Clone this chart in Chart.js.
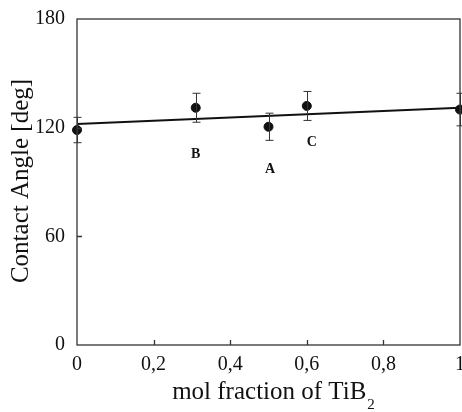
<!DOCTYPE html>
<html>
<head>
<meta charset="utf-8">
<script src="https://cdn.jsdelivr.net/npm/chart.js@4/dist/chart.umd.min.js"></script>
<style>
  html, body { margin: 0; padding: 0; background: #fff; }
  #wrap { width: 462px; height: 412px; }
</style>
</head>
<body>
<div id="wrap"><canvas id="c" width="462" height="412"></canvas></div>
<script>
// datos
const molFrac = [0, 0.31, 0.5, 0.6, 1];
const angle = [118.7, 131, 120.5, 132, 130];
const angleErr = [7, 8, 7.5, 8, 9];
const fitX = [0, 1];
const fitY = [122, 131];
const labelText = ['B', 'A', 'C'];
const labelX = [0.31, 0.504, 0.613];
const labelY = [105, 97, 112];
const xTicks = [0, 0.2, 0.4, 0.6, 0.8, 1];
const yTicks = [0, 60, 120, 180];

const SERIF = '"Liberation Serif", "DejaVu Serif", serif';
const INK = '#111';

// caja, marcas interiores, barras de error, letras y títulos
const extras = {
    id: 'extras',
    afterDatasetsDraw(chart) {
        const { ctx, chartArea: a, scales: { x, y } } = chart;
        ctx.save();
        ctx.strokeStyle = '#333';
        ctx.lineWidth = 1.3;
        ctx.strokeRect(a.left, a.top, a.right - a.left, a.bottom - a.top);

        // marcas hacia dentro
        ctx.beginPath();
        xTicks.slice(1, -1).forEach(v => {
            const px = Math.round(x.getPixelForValue(v)) + .5;
            ctx.moveTo(px, a.bottom);
            ctx.lineTo(px, a.bottom - 5);
        });
        yTicks.slice(1, -1).forEach(v => {
            const py = Math.round(y.getPixelForValue(v)) + .5;
            ctx.moveTo(a.left, py);
            ctx.lineTo(a.left + 5, py);
        });
        ctx.stroke();

        // barras de error
        ctx.lineWidth = 1;
        ctx.beginPath();
        molFrac.forEach((v, i) => {
            const px = Math.round(x.getPixelForValue(v)) + .5;
            const top = y.getPixelForValue(angle[i] + angleErr[i]);
            const bot = y.getPixelForValue(angle[i] - angleErr[i]);
            ctx.moveTo(px, top); ctx.lineTo(px, bot);
            ctx.moveTo(px - 4, top); ctx.lineTo(px + 4, top);
            ctx.moveTo(px - 4, bot); ctx.lineTo(px + 4, bot);
        });
        ctx.stroke();

        // letras A, B, C
        ctx.fillStyle = INK;
        ctx.font = 'bold 14px ' + SERIF;
        ctx.textAlign = 'center';
        ctx.textBaseline = 'middle';
        labelText.forEach((t, i) => {
            ctx.fillText(t, x.getPixelForValue(labelX[i]), y.getPixelForValue(labelY[i]));
        });

        // título eje x con subíndice
        ctx.font = '25px ' + SERIF;
        ctx.textAlign = 'left';
        ctx.textBaseline = 'alphabetic';
        const main = 'mol fraction of TiB';
        const w = ctx.measureText(main).width;
        ctx.font = '15px ' + SERIF;
        const ws = ctx.measureText('2').width;
        const x0 = 273 - (w + ws) / 2;
        ctx.font = '25px ' + SERIF;
        ctx.fillText(main, x0, 399);
        ctx.font = '15px ' + SERIF;
        ctx.fillText('2', x0 + w + 1, 409);

        // título eje y
        ctx.translate(21, 181);
        ctx.rotate(-Math.PI / 2);
        ctx.font = '25px ' + SERIF;
        ctx.textAlign = 'center';
        ctx.textBaseline = 'middle';
        ctx.fillText('Contact Angle [deg]', 0, 0);
        ctx.restore();
    }
};

new Chart(document.getElementById('c'), {
    type: 'scatter',
    data: {
        datasets: [
            {
                type: 'line',
                data: fitX.map((v, i) => ({ x: v, y: fitY[i] })),
                borderColor: INK,
                borderWidth: 2,
                pointRadius: 0,
                fill: false
            },
            {
                data: molFrac.map((v, i) => ({ x: v, y: angle[i] })),
                backgroundColor: INK,
                borderColor: INK,
                pointRadius: 4.5,
                pointHoverRadius: 4.5
            }
        ]
    },
    options: {
        responsive: false,
        animation: false,
        clip: false,
        layout: { autoPadding: false, padding: { top: 19, right: 2, left: 0, bottom: 0 } },
        plugins: { legend: { display: false }, tooltip: { enabled: false } },
        scales: {
            x: {
                type: 'linear',
                min: 0, max: 1,
                grid: { display: false },
                border: { display: false },
                afterBuildTicks: s => { s.ticks = xTicks.map(v => ({ value: v })); },
                afterFit: s => { s.height = 67; s.paddingLeft = 0; s.paddingRight = 0; },
                ticks: {
                    color: INK,
                    padding: 0,
                    maxRotation: 0,
                    autoSkip: false,
                    font: { family: SERIF, size: 20 },
                    callback: v => String(v).replace('.', ',')
                }
            },
            y: {
                min: 0, max: 180,
                grid: { display: false },
                border: { display: false },
                afterBuildTicks: s => { s.ticks = yTicks.map(v => ({ value: v })); },
                afterFit: s => { s.width = 77; s.paddingTop = 0; s.paddingBottom = 0; },
                ticks: {
                    color: INK,
                    padding: 4,
                    font: { family: SERIF, size: 20 }
                }
            }
        }
    },
    plugins: [extras]
});
</script>
</body>
</html>
